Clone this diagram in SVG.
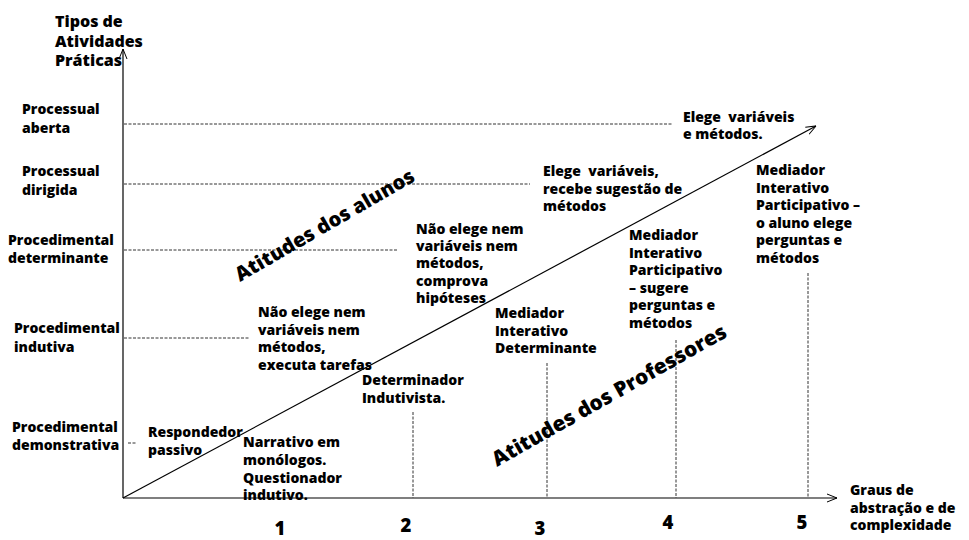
<svg xmlns="http://www.w3.org/2000/svg" width="969" height="540" viewBox="0 0 969 540">
<style>
.t{font-family:"Open Sans","Noto Sans","DejaVu Sans",sans-serif;font-weight:800;font-size:14px;fill:#000}
.ttl{font-size:16px}
.num{font-size:18.5px}
.rot{font-size:20px}
.rot2{font-size:20.8px}
.ax{stroke:#000;stroke-width:1.2;fill:none}
.dash{stroke:#333;stroke-width:1;stroke-dasharray:3,1.5;fill:none}
</style>
<defs>
<marker id="arr" viewBox="0 0 10 10" refX="10" refY="5" markerWidth="10" markerHeight="10" orient="auto" markerUnits="userSpaceOnUse">
<path d="M0,1 L10,5 L0,9" fill="none" stroke="#000" stroke-width="1"/>
</marker>
</defs>
<rect width="969" height="540" fill="#fff"/>

<g id="connectors">
<line class="ax" x1="123" y1="498" x2="123" y2="49" marker-end="url(#arr)"/>
<line class="ax" x1="123" y1="498" x2="837" y2="498" marker-end="url(#arr)"/>
<line class="ax" x1="123" y1="498" x2="816" y2="126" marker-end="url(#arr)"/>
<line class="dash" x1="124" y1="124" x2="673" y2="124"/>
<line class="dash" x1="124" y1="184" x2="530" y2="184"/>
<line class="dash" x1="124" y1="250" x2="398" y2="250"/>
<line class="dash" x1="124" y1="338" x2="250" y2="338"/>
<line class="dash" x1="128" y1="443" x2="137" y2="443"/>
<line class="dash" x1="413" y1="412" x2="413" y2="498"/>
<line class="dash" x1="547" y1="363" x2="547" y2="498"/>
<line class="dash" x1="676" y1="340" x2="676" y2="498"/>
<line class="dash" x1="808" y1="273" x2="808" y2="498"/>
</g>

<g id="y-title"><text class="t ttl" x="55" y="27">Tipos de<tspan x="55" dy="20">Atividades</tspan><tspan x="55" dy="19">Práticas</tspan></text></g>
<g id="x-title"><text class="t" x="850" y="495">Graus de<tspan x="850" dy="18">abstração e de</tspan><tspan x="850" dy="17">complexidade</tspan></text></g>

<g id="lvl-aberta"><text class="t" x="22" y="114">Processual<tspan x="22" dy="19">aberta</tspan></text></g>
<g id="lvl-dirigida"><text class="t" x="22" y="176">Processual<tspan x="22" dy="19">dirigida</tspan></text></g>
<g id="lvl-determinante"><text class="t" x="8" y="245">Procedimental<tspan x="8" dy="18">determinante</tspan></text></g>
<g id="lvl-indutiva"><text class="t" x="14" y="333">Procedimental<tspan x="14" dy="19">indutiva</tspan></text></g>
<g id="lvl-demonstrativa"><text class="t" x="12" y="432">Procedimental<tspan x="12" dy="18">demonstrativa</tspan></text></g>

<g id="n-respondedor"><text class="t" x="148" y="437">Respondedor<tspan x="148" dy="17.5">passivo</tspan></text></g>
<g id="n-naoelege1"><text class="t" x="258" y="317">Não elege nem<tspan x="258" dy="17.5">variáveis nem</tspan><tspan x="258" dy="17.5">métodos,</tspan><tspan x="258" dy="17.5">executa tarefas</tspan></text></g>
<g id="n-naoelege2"><text class="t" x="416" y="234">Não elege nem<tspan x="416" dy="17.2">variáveis nem</tspan><tspan x="416" dy="17.2">métodos,</tspan><tspan x="416" dy="17.2">comprova</tspan><tspan x="416" dy="17.2">hipóteses</tspan></text></g>
<g id="n-elege1"><text class="t" x="543" y="176">Elege&#160; variáveis,<tspan x="543" dy="17.5">recebe sugestão de</tspan><tspan x="543" dy="17.5">métodos</tspan></text></g>
<g id="n-elege2"><text class="t" x="683" y="122">Elege&#160; variáveis<tspan x="683" dy="17">e métodos.</tspan></text></g>

<g id="n-narrativo"><text class="t" x="243" y="447">Narrativo em<tspan x="243" dy="17.8">monólogos.</tspan><tspan x="243" dy="17.8">Questionador</tspan><tspan x="243" dy="17.8">indutivo.</tspan></text></g>
<g id="n-determinador"><text class="t" x="362" y="385">Determinador<tspan x="362" dy="18">Indutivista.</tspan></text></g>
<g id="n-mediador3"><text class="t" x="495" y="318">Mediador<tspan x="495" dy="17.5">Interativo</tspan><tspan x="495" dy="17.5">Determinante</tspan></text></g>
<g id="n-mediador4"><text class="t" x="629" y="240">Mediador<tspan x="629" dy="17.5">Interativo</tspan><tspan x="629" dy="17.5">Participativo</tspan><tspan x="629" dy="17.5">– sugere</tspan><tspan x="629" dy="17.5">perguntas e</tspan><tspan x="629" dy="17.5">métodos</tspan></text></g>
<g id="n-mediador5"><text class="t" x="756" y="175">Mediador<tspan x="756" dy="17.6">Interativo</tspan><tspan x="756" dy="17.6">Participativo –</tspan><tspan x="756" dy="17.6">o aluno elege</tspan><tspan x="756" dy="17.6">perguntas e</tspan><tspan x="756" dy="17.6">métodos</tspan></text></g>

<g id="lbl-alunos"><text class="t rot" transform="translate(240,282) rotate(-30)">Atitudes dos alunos</text></g>
<g id="lbl-professores"><text class="t rot2" transform="translate(497,467) rotate(-29.5)">Atitudes dos Professores</text></g>

<g id="ticks">
<text class="t num" x="280" y="535" text-anchor="middle">1</text>
<text class="t num" x="406" y="532" text-anchor="middle">2</text>
<text class="t num" x="540" y="535" text-anchor="middle">3</text>
<text class="t num" x="668" y="529" text-anchor="middle">4</text>
<text class="t num" x="802" y="529" text-anchor="middle">5</text>
</g>
</svg>
